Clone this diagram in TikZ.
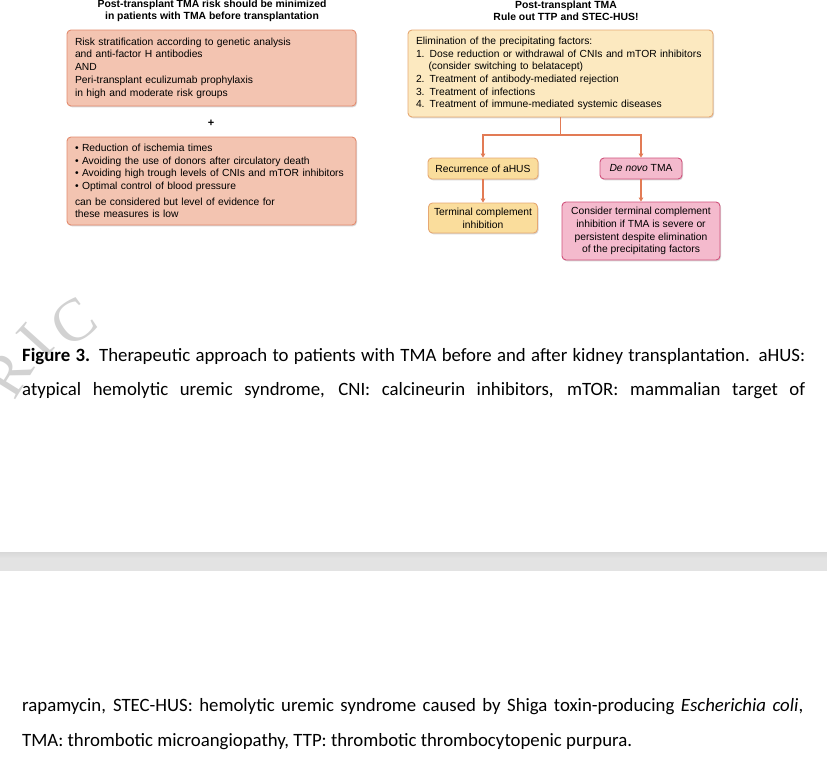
\documentclass[tikz,border=0pt]{standalone}
\usepackage{fontspec}
\setmainfont{Liberation Sans}
\newfontfamily\capfont{Carlito}
\newfontfamily\wmfont{Liberation Serif}
\usetikzlibrary{arrows.meta,shadows}

\definecolor{salfill}{HTML}{F3C4B1}
\definecolor{salline}{HTML}{E38B6E}
\definecolor{yelfill}{HTML}{FCE9C0}
\definecolor{yelline}{HTML}{E6A872}
\definecolor{yeltwo}{HTML}{FADD9C}
\definecolor{pinkfill}{HTML}{F4BACD}
\definecolor{pinkline}{HTML}{D0527C}
\definecolor{conncol}{HTML}{E27B55}
\definecolor{bandcol}{HTML}{E3E3E3}
\definecolor{bandtop}{HTML}{D8D8D8}
\definecolor{wmcol}{HTML}{D2D2D2}

\begin{document}
\begin{tikzpicture}[x=1pt,y=-1pt,
  boxbase/.style={draw, line width=0.9pt, rounded corners=4pt, inner ysep=0pt,
     font=\fontsize{10.3pt}{12.7pt}\selectfont,
     drop shadow={shadow xshift=1pt, shadow yshift=-1.3pt, opacity=0.25, fill=black!60}},
  salbox/.style={boxbase, fill=salfill, draw=salline, align=left},
  yelbox/.style={boxbase, fill=yelfill, draw=yelline, align=left},
  yelsmall/.style={boxbase, fill=yeltwo, draw=yelline, align=center, inner xsep=2pt},
  pinkbox/.style={boxbase, fill=pinkfill, draw=pinkline, align=center, inner xsep=2pt},
  titletext/.style={font=\bfseries\fontsize{10.4pt}{12pt}\selectfont, align=center, inner sep=0pt},
  connline/.style={draw=conncol, line width=1.2pt},
  arr/.style={connline, -{Triangle[width=4.5pt,length=4pt]}},
  captext/.style={anchor=base west, inner sep=0pt, font=\capfont\fontsize{18.8pt}{22pt}\selectfont},
  wmletter/.style={font=\wmfont\fontsize{60pt}{60pt}\selectfont, text=wmcol, inner sep=0pt}
]
\useasboundingbox (0,0) rectangle (827,761);
\fill[white] (0,0) rectangle (827,761);

% watermark
\node[wmletter, rotate=58] (wmR) at (8,374) {R};
\node[wmletter, rotate=48] (wmI) at (36,341) {I};
\node[wmletter, rotate=35] (wmC) at (74,322) {C};

% titles
\node[titletext] (tl) at (212,11) {Post-transplant TMA risk should be minimized\\in patients with TMA before transplantation};
\node[titletext] (tr) at (566,11) {Post-transplant TMA\\Rule out TTP and STEC-HUS!};

% left boxes
\node[salbox, minimum width=289pt, minimum height=76pt, text width=273pt, inner xsep=8pt] (b1) at (211.5,68)
 {Risk stratification according to genetic analysis\\
  and anti-factor H antibodies\\
  AND\\
  Peri-transplant eculizumab prophylaxis\\
  in high and moderate risk groups};
\node[font=\bfseries\fontsize{11pt}{11pt}\selectfont, inner sep=0pt] (plus) at (211,123) {+};
\node[salbox, minimum width=289pt, minimum height=88pt, text width=273pt, inner xsep=8pt] (b2) at (211.5,181)
 {• Reduction of ischemia times\\
  • Avoiding the use of donors after circulatory death\\
  • Avoiding high trough levels of CNIs and mTOR inhibitors\\
  • Optimal control of blood pressure\\[3pt]
  can be considered but level of evidence for\\
  these measures is low};

% right boxes
\node[yelbox, minimum width=305pt, minimum height=87pt, text width=289pt, inner xsep=8pt] (b3) at (560.5,73.5)
 {Elimination of the precipitating factors:\\
  1. Dose reduction or withdrawal of CNIs and mTOR inhibitors\\
  \hspace*{12.5pt}(consider switching to belatacept)\\
  2. Treatment of antibody-mediated rejection\\
  3. Treatment of infections\\
  4. Treatment of immune-mediated systemic diseases};
\node[yelsmall, minimum width=110pt, minimum height=21pt] (rec) at (483,168.5) {Recurrence of aHUS};
\node[pinkbox, minimum width=82pt, minimum height=21pt] (dn) at (641,168.5) {\textit{De novo} TMA};
\node[yelsmall, minimum width=109pt, minimum height=30pt] (term) at (483,218) {Terminal complement\\inhibition};
\node[pinkbox, minimum width=158pt, minimum height=58pt] (cons) at (641,231)
 {Consider terminal complement\\inhibition if TMA is severe or\\persistent despite elimination\\of the precipitating factors};

% connectors
\coordinate (jn) at (b3.south |- 0,135);
\draw[connline] (b3.south) -- (jn);
\draw[arr] (jn) -| (rec.north);
\draw[arr] (jn) -| (dn.north);
\draw[arr] (rec.south) -- (term.north);
\draw[arr] (dn.south) -- (cons.north);

% caption
\node[captext] (c1) at (22,361) {\makebox[783pt][s]{\textbf{Figure 3.} Therapeutic approach to patients with TMA before and after kidney transplantation. aHUS:}};
\node[captext] (c2) at (22,395) {\makebox[783pt][s]{atypical hemolytic uremic syndrome, CNI: calcineurin inhibitors, mTOR: mammalian target of}};

% page band
\fill[bandcol] (0,552) rectangle (827,571);
\shade[top color=bandtop, bottom color=bandcol] (0,552) rectangle (827,558);

\node[captext] (c3) at (22,711) {\makebox[781pt][s]{rapamycin, STEC-HUS: hemolytic uremic syndrome caused by Shiga toxin-producing \textit{Escherichia coli},}};
\node[captext] (c4) at (22,746) {TMA: thrombotic microangiopathy, TTP: thrombotic thrombocytopenic purpura.};
\end{tikzpicture}
\end{document}
